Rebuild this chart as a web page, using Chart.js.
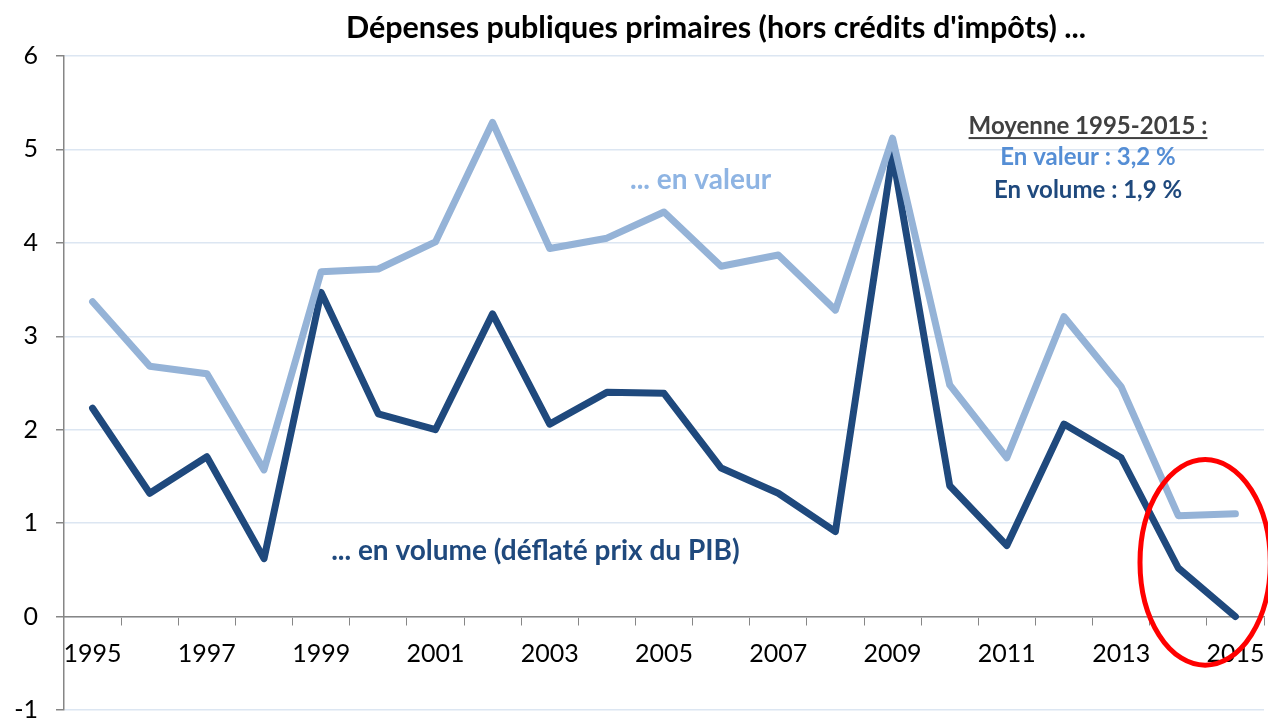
<!DOCTYPE html>
<html>
<head>
<meta charset="utf-8">
<script src="https://cdn.jsdelivr.net/npm/chart.js@4"></script>
<style>
  html, body { margin: 0; padding: 0; background: #fff; }
  #wrap { width: 1268px; height: 720px; }
</style>
</head>
<body>
<div id="wrap"><canvas id="myChart"></canvas></div>
<script>
// years on the x axis
const years = ['1995', '1996', '1997', '1998', '1999', '2000', '2001', '2002', '2003', '2004',
  '2005', '2006', '2007', '2008', '2009', '2010', '2011', '2012', '2013', '2014', '2015'];

// growth of primary public spending, in value (%)
const enValeur = [3.37, 2.68, 2.60, 1.57, 3.69, 3.72, 4.01, 5.29, 3.94, 4.05,
  4.33, 3.75, 3.87, 3.28, 5.12, 2.48, 1.70, 3.21, 2.46, 1.08, 1.10];

// growth in volume, deflated by GDP price (%)
const enVolume = [2.23, 1.32, 1.71, 0.62, 3.47, 2.17, 2.00, 3.24, 2.06, 2.40,
  2.39, 1.59, 1.32, 0.91, 4.95, 1.40, 0.76, 2.06, 1.70, 0.52, 0.00];

const yTicks = [-1, 0, 1, 2, 3, 4, 5, 6];

const lightBlue = '#95B3D7';
const darkBlue = '#1F497D';
const axisGray = '#868686';
const gridBlue = '#DCE6F2';
const fontFam = 'Lato, "Noto Sans", sans-serif';

// text and the red circle drawn on top of the chart
const notesPlugin = {
  id: 'notes',
  afterDatasetsDraw(chart) {
    const ctx = chart.ctx;
    const x = chart.scales.x;
    const y = chart.scales.y;
    ctx.save();

    // title
    ctx.fillStyle = '#000';
    ctx.font = 'bold 30.5px ' + fontFam;
    ctx.textAlign = 'center';
    ctx.textBaseline = 'middle';
    ctx.fillText("Dépenses publiques primaires (hors crédits d'impôts) ...", 716, 28);

    // series labels
    ctx.font = 'bold 28px ' + fontFam;
    ctx.fillStyle = '#8EB4E3';
    ctx.fillText('... en valeur', x.getPixelForValue(10.64), y.getPixelForValue(4.67));
    ctx.fillStyle = darkBlue;
    ctx.fillText('... en volume (déflaté prix du PIB)', x.getPixelForValue(7.75), y.getPixelForValue(0.70));

    // averages box
    ctx.font = 'bold 24px ' + fontFam;
    const mx = x.getPixelForValue(17.42);
    const my = y.getPixelForValue(5.25);
    ctx.fillStyle = '#404040';
    const head = 'Moyenne 1995-2015 :';
    ctx.fillText(head, mx, my);
    const w = ctx.measureText(head).width;
    ctx.fillRect(mx - w / 2, my + 11, w, 2);
    ctx.fillStyle = '#558ED5';
    ctx.fillText('En valeur : 3,2 %', mx, y.getPixelForValue(4.92));
    ctx.fillStyle = darkBlue;
    ctx.fillText('En volume : 1,9 %', mx, y.getPixelForValue(4.56));

    // red ellipse around the last two years
    const cx = x.getPixelForValue(19.47);
    const cy = y.getPixelForValue(0.58);
    const rx = (x.getPixelForValue(1) - x.getPixelForValue(0)) * 1.14;
    const ry = (y.getPixelForValue(0) - y.getPixelForValue(1.1));
    ctx.strokeStyle = '#FF0000';
    ctx.lineWidth = 5;
    ctx.beginPath();
    ctx.ellipse(cx, cy, rx, ry, 0, 0, Math.PI * 2);
    ctx.stroke();
    ctx.restore();
  }
};

const data = {
  labels: years,
  datasets: [
    {
      label: 'en valeur',
      data: enValeur,
      borderColor: lightBlue,
      borderWidth: 7,
      pointRadius: 0,
      tension: 0,
      borderCapStyle: 'round',
      borderJoinStyle: 'round',
    },
    {
      label: 'en volume',
      data: enVolume,
      borderColor: darkBlue,
      borderWidth: 7,
      pointRadius: 0,
      tension: 0,
      borderCapStyle: 'round',
      borderJoinStyle: 'round',
    },
  ],
};

const config = {
  type: 'line',
  data: data,
  options: {
    responsive: true,
    maintainAspectRatio: false,
    animation: false,
    layout: { padding: { top: 56, right: 4, bottom: 10, left: 0 } },
    plugins: {
      legend: { display: false },
      title: { display: false },
      tooltip: { enabled: false },
    },
    scales: {
      x: {
        type: 'category',
        position: { y: 0 },
        offset: true,
        afterFit: (axis) => { axis.paddingLeft = 0; axis.paddingRight = 0; },
        grid: {
          offset: true,
          drawOnChartArea: false,
          drawTicks: true,
          tickLength: 8,
          tickColor: axisGray,
        },
        border: { color: axisGray, width: 1.5 },
        ticks: {
          autoSkip: false,
          maxRotation: 0,
          padding: 14,
          color: '#000',
          font: { family: fontFam, size: 25 },
          callback: (v, i) => (i % 2 === 0 ? years[i] : ''),
        },
      },
      y: {
        min: -1,
        max: 6,
        afterBuildTicks: (axis) => { axis.ticks = yTicks.map(v => ({ value: v })); },
        afterFit: (axis) => { axis.width = 64; axis.paddingTop = 0; axis.paddingBottom = 0; },
        grid: {
          color: gridBlue,
          lineWidth: 1.5,
          tickLength: 8,
          tickColor: axisGray,
        },
        border: { color: axisGray, width: 1.5 },
        ticks: {
          padding: 18,
          color: '#000',
          font: { family: fontFam, size: 25 },
        },
      },
    },
  },
  plugins: [notesPlugin],
};

new Chart(document.getElementById('myChart'), config);
</script>
</body>
</html>
